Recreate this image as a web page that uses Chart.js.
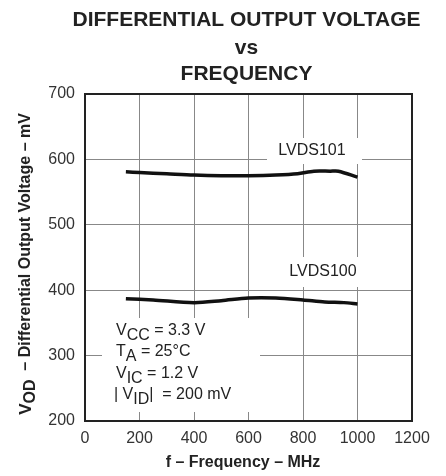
<!DOCTYPE html>
<html>
<head>
<meta charset="utf-8">
<script src="https://cdn.jsdelivr.net/npm/chart.js@4/dist/chart.umd.min.js"></script>
<style>
  html, body { margin: 0; padding: 0; background: #fff; }
  #wrap { width: 446px; height: 476px; }
</style>
</head>
<body>
<div id="wrap"><canvas id="chart" width="446" height="476"></canvas></div>
<script>
// Data (frequency in MHz, VOD in mV)
const freqLvds101 = [150, 200, 300, 400, 500, 600, 700, 780, 840, 900, 930, 1000];
const vodLvds101 = [581, 580, 578, 576, 575, 575, 576, 578, 582, 582, 582, 573];
const freqLvds100 = [150, 250, 400, 500, 600, 700, 800, 880, 950, 1000];
const vodLvds100 = [387, 385, 381, 384, 388, 388, 385, 382, 381, 379];
const xTicks = [0, 200, 400, 600, 800, 1000, 1200];
const yTicks = [200, 300, 400, 500, 600, 700];

const FONT = "'Liberation Sans', Arial, sans-serif";
const toPoints = (xs, ys) => xs.map((x, i) => ({ x: x, y: ys[i] }));

// draws text runs; runs flagged s are dropped as subscripts
function drawRuns(ctx, runs, px, py) {
    let cx = px;
    runs.forEach(r => {
        ctx.font = r.f + FONT;
        ctx.fillText(r.t, cx, py + (r.s ? 5 : 0));
        cx += ctx.measureText(r.t).width;
    });
}

const annotations = {
    id: 'annotations',
    beforeDatasetsDraw(chart) {
        const ctx = chart.ctx;
        ctx.save();
        // white knock-outs over the grid
        ctx.fillStyle = '#fff';
        ctx.fillRect(267, 138, 95, 26);
        ctx.fillRect(282, 257, 80, 30);
        ctx.fillRect(102, 318, 158, 94);

        ctx.fillStyle = '#222';
        ctx.font = '16px ' + FONT;
        ctx.textBaseline = 'middle';
        ctx.textAlign = 'center';
        ctx.fillText('LVDS101', 312, 151);
        ctx.fillText('LVDS100', 323, 272);

        ctx.textAlign = 'left';
        const n = '16px ';
        drawRuns(ctx, [{ t: 'V', f: n }, { t: 'CC', f: n, s: 1 }, { t: ' = 3.3 V', f: n }], 116, 331);
        drawRuns(ctx, [{ t: 'T', f: n }, { t: 'A', f: n, s: 1 }, { t: ' = 25°C', f: n }], 116, 352);
        drawRuns(ctx, [{ t: 'V', f: n }, { t: 'IC', f: n, s: 1 }, { t: ' = 1.2 V', f: n }], 116, 374);
        drawRuns(ctx, [{ t: '| V', f: n }, { t: 'ID', f: n, s: 1 }, { t: '|  = 200 mV', f: n }], 114, 395);
        ctx.restore();
    },
    afterDraw(chart) {
        const ctx = chart.ctx;
        const area = chart.chartArea;
        const cx = (area.left + area.right) / 2;
        ctx.save();
        ctx.fillStyle = '#222';
        ctx.textAlign = 'center';
        ctx.textBaseline = 'middle';
        ctx.font = 'bold 21px ' + FONT;
        ctx.fillText('DIFFERENTIAL OUTPUT VOLTAGE', cx - 2, 20);
        ctx.fillText('vs', cx - 2, 48);
        ctx.fillText('FREQUENCY', cx - 2, 74);

        ctx.font = 'bold 16px ' + FONT;
        ctx.fillText('f – Frequency – MHz', 243, 463);

        // rotated y axis title with subscript
        ctx.translate(26, 264);
        ctx.rotate(-Math.PI / 2);
        ctx.textAlign = 'left';
        const runs = [
            { t: 'V', f: 'bold 17px ' },
            { t: 'OD', f: 'bold 16px ', s: 1 },
            { t: '  – Differential Output Voltage – mV', f: 'bold 16px ' }
        ];
        let w = 0;
        runs.forEach(r => { ctx.font = r.f + FONT; w += ctx.measureText(r.t).width; });
        drawRuns(ctx, runs, -w / 2, 0);
        ctx.restore();
    }
};

const frame = {
    id: 'frame',
    beforeDatasetsDraw(chart) {
        const a = chart.chartArea, ctx = chart.ctx;
        ctx.save();
        ctx.strokeStyle = '#222';
        ctx.lineWidth = 2;
        ctx.strokeRect(a.left, a.top, a.right - a.left, a.bottom - a.top);
        ctx.restore();
    }
};

new Chart(document.getElementById('chart'), {
    type: 'line',
    data: {
        datasets: [
            {
                label: 'LVDS101',
                data: toPoints(freqLvds101, vodLvds101),
                borderColor: '#111',
                borderWidth: 3.5,
                pointRadius: 0,
                tension: 0.3,
                fill: false
            },
            {
                label: 'LVDS100',
                data: toPoints(freqLvds100, vodLvds100),
                borderColor: '#111',
                borderWidth: 3.5,
                pointRadius: 0,
                tension: 0.3,
                fill: false
            }
        ]
    },
    options: {
        responsive: false,
        animation: false,
        layout: { padding: { top: 94, right: 34, left: 0, bottom: 0 } },
        plugins: {
            legend: { display: false },
            tooltip: { enabled: false },
            title: { display: false }
        },
        scales: {
            x: {
                type: 'linear',
                min: 0,
                max: 1200,
                afterBuildTicks: s => { s.ticks = xTicks.map(v => ({ value: v })); },
                afterFit: s => { s.height = 55; },
                grid: { color: '#888', lineWidth: 1, drawTicks: false },
                border: { color: '#222', width: 2 },
                ticks: {
                    color: '#333',
                    font: { family: FONT, size: 16 },
                    padding: 8,
                    maxRotation: 0,
                    callback: v => String(v)
                }
            },
            y: {
                min: 200,
                max: 700,
                afterBuildTicks: s => { s.ticks = yTicks.map(v => ({ value: v })); },
                afterFit: s => { s.width = 85; },
                grid: { color: '#888', lineWidth: 1, drawTicks: false },
                border: { color: '#222', width: 2 },
                ticks: { color: '#333', font: { family: FONT, size: 16 }, padding: 10 }
            }
        }
    },
    plugins: [annotations, frame]
});
</script>
</body>
</html>
